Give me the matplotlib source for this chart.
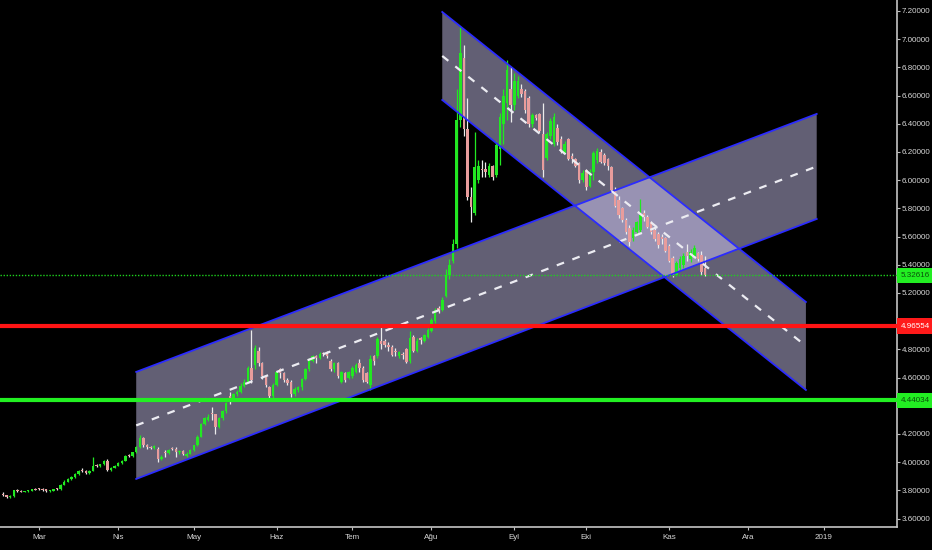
import numpy as np
import pandas as pd
import matplotlib
matplotlib.use("Agg")
import matplotlib.pyplot as plt

# USD/TRY daily candles, one per business day from 2018-02-15
start_day = "2018-02-15"

opens = [3.775, 3.765, 3.752, 3.760, 3.800, 3.794, 3.790, 3.795, 3.797, 3.810,
         3.810, 3.806, 3.808, 3.792, 3.797, 3.812, 3.806, 3.840, 3.862, 3.880,
         3.895, 3.915, 3.945, 3.938, 3.922, 3.940, 3.978, 3.972, 3.985, 4.010,
         3.945, 3.958, 3.975, 3.995, 4.010, 4.050, 4.045, 4.070, 4.110, 4.170,
         4.120, 4.108, 4.100, 4.095, 4.025, 4.072, 4.066, 4.100, 4.090, 4.070,
         4.078, 4.045, 4.060, 4.085, 4.120, 4.180, 4.270, 4.300, 4.350, 4.340,
         4.250, 4.310, 4.360, 4.470, 4.450, 4.480, 4.500, 4.540, 4.570, 4.667,
         4.690, 4.790, 4.700, 4.610, 4.530, 4.470, 4.550, 4.660, 4.630, 4.580,
         4.570, 4.480, 4.510, 4.530, 4.590, 4.660, 4.720, 4.750, 4.740, 4.770,
         4.770, 4.720, 4.660, 4.700, 4.570, 4.630, 4.600, 4.610, 4.640, 4.700,
         4.670, 4.630, 4.550, 4.750, 4.750, 4.860, 4.860, 4.830, 4.820, 4.790,
         4.750, 4.770, 4.800, 4.720, 4.890, 4.790, 4.880, 4.860, 4.890, 4.930,
         5.000, 5.090, 5.080, 5.180, 5.330, 5.430, 5.550, 6.430, 6.870, 6.360,
         5.880, 5.770, 6.000, 6.080, 6.080, 6.040, 6.100, 6.040, 6.220, 6.400,
         6.550, 6.650, 6.530, 6.600, 6.650, 6.630, 6.580, 6.400, 6.460, 6.470,
         6.330, 6.160, 6.310, 6.260, 6.370, 6.290, 6.200, 6.290, 6.170, 6.150,
         6.120, 6.000, 6.070, 5.960, 6.060, 6.140, 6.200, 6.180, 6.150, 6.090,
         5.930, 5.860, 5.800, 5.720, 5.660, 5.590, 5.630, 5.650, 5.770, 5.740,
         5.700, 5.650, 5.620, 5.600, 5.590, 5.530, 5.450, 5.330, 5.380, 5.400,
         5.490, 5.440, 5.460, 5.480, 5.470, 5.380]

highs = [3.785, 3.770, 3.765, 3.805, 3.808, 3.805, 3.798, 3.800, 3.812, 3.815,
         3.818, 3.815, 3.812, 3.800, 3.812, 3.818, 3.845, 3.870, 3.885, 3.900,
         3.925, 3.945, 3.955, 3.945, 3.945, 4.040, 3.985, 3.990, 4.015, 4.020,
         3.965, 3.980, 4.000, 4.015, 4.050, 4.060, 4.075, 4.115, 4.190, 4.180,
         4.130, 4.118, 4.125, 4.106, 4.050, 4.085, 4.090, 4.110, 4.105, 4.085,
         4.085, 4.070, 4.090, 4.125, 4.190, 4.280, 4.320, 4.340, 4.390, 4.345,
         4.320, 4.370, 4.430, 4.500, 4.490, 4.510, 4.560, 4.590, 4.680, 4.940,
         4.830, 4.820, 4.710, 4.620, 4.540, 4.560, 4.650, 4.670, 4.640, 4.600,
         4.580, 4.530, 4.540, 4.600, 4.670, 4.740, 4.760, 4.760, 4.780, 4.780,
         4.790, 4.730, 4.710, 4.710, 4.650, 4.640, 4.650, 4.680, 4.700, 4.730,
         4.680, 4.640, 4.760, 4.760, 4.890, 4.980, 4.870, 4.850, 4.830, 4.810,
         4.790, 4.780, 4.810, 4.930, 4.900, 4.880, 4.890, 4.910, 4.950, 5.020,
         5.090, 5.110, 5.170, 5.370, 5.440, 5.580, 6.650, 7.090, 6.960, 6.580,
         5.950, 6.340, 6.140, 6.140, 6.130, 6.120, 6.110, 6.280, 6.480, 6.650,
         6.850, 6.800, 6.760, 6.740, 6.680, 6.650, 6.600, 6.480, 6.470, 6.480,
         6.550, 6.340, 6.440, 6.480, 6.400, 6.310, 6.280, 6.300, 6.190, 6.160,
         6.130, 6.070, 6.080, 6.080, 6.210, 6.230, 6.220, 6.190, 6.160, 6.100,
         5.950, 5.890, 5.810, 5.730, 5.680, 5.670, 5.710, 5.870, 5.790, 5.750,
         5.710, 5.660, 5.630, 5.620, 5.600, 5.550, 5.460, 5.430, 5.460, 5.480,
         5.550, 5.510, 5.540, 5.490, 5.500, 5.460]

lows = [3.760, 3.745, 3.745, 3.755, 3.788, 3.785, 3.786, 3.790, 3.795, 3.800,
        3.800, 3.798, 3.785, 3.788, 3.795, 3.800, 3.804, 3.835, 3.858, 3.875,
        3.890, 3.910, 3.930, 3.915, 3.918, 3.935, 3.965, 3.968, 3.980, 3.940,
        3.940, 3.955, 3.970, 3.990, 4.005, 4.035, 4.040, 4.065, 4.100, 4.110,
        4.095, 4.090, 4.095, 4.000, 4.015, 4.040, 4.060, 4.085, 4.040, 4.060,
        4.050, 4.040, 4.055, 4.080, 4.115, 4.175, 4.260, 4.290, 4.300, 4.200,
        4.240, 4.300, 4.350, 4.410, 4.440, 4.470, 4.490, 4.530, 4.560, 4.560,
        4.660, 4.680, 4.590, 4.530, 4.450, 4.450, 4.540, 4.600, 4.570, 4.550,
        4.460, 4.470, 4.500, 4.510, 4.580, 4.650, 4.710, 4.700, 4.730, 4.750,
        4.740, 4.650, 4.640, 4.600, 4.560, 4.570, 4.590, 4.600, 4.630, 4.640,
        4.570, 4.560, 4.510, 4.690, 4.740, 4.800, 4.820, 4.790, 4.750, 4.750,
        4.740, 4.730, 4.700, 4.700, 4.780, 4.780, 4.840, 4.850, 4.880, 4.920,
        4.990, 5.060, 5.070, 5.170, 5.300, 5.410, 5.520, 6.380, 6.310, 5.860,
        5.700, 5.750, 5.980, 6.020, 6.020, 6.020, 6.000, 6.020, 6.110, 6.260,
        6.430, 6.410, 6.500, 6.580, 6.590, 6.480, 6.380, 6.380, 6.430, 6.340,
        6.020, 6.140, 6.290, 6.240, 6.250, 6.190, 6.190, 6.140, 6.120, 6.090,
        5.980, 5.990, 5.930, 5.950, 6.000, 6.120, 6.120, 6.110, 6.070, 5.920,
        5.810, 5.730, 5.700, 5.620, 5.530, 5.570, 5.620, 5.630, 5.710, 5.660,
        5.620, 5.570, 5.520, 5.550, 5.490, 5.420, 5.310, 5.320, 5.360, 5.380,
        5.430, 5.420, 5.450, 5.430, 5.330, 5.320]

closes = [3.765, 3.752, 3.760, 3.800, 3.794, 3.790, 3.795, 3.797, 3.810, 3.805,
          3.806, 3.803, 3.792, 3.797, 3.808, 3.806, 3.840, 3.862, 3.880, 3.895,
          3.915, 3.935, 3.938, 3.922, 3.940, 3.975, 3.972, 3.985, 4.005, 3.945,
          3.958, 3.975, 3.995, 4.010, 4.045, 4.045, 4.070, 4.110, 4.170, 4.120,
          4.105, 4.100, 4.115, 4.025, 4.040, 4.066, 4.085, 4.090, 4.070, 4.078,
          4.058, 4.060, 4.085, 4.120, 4.180, 4.270, 4.310, 4.320, 4.340, 4.250,
          4.310, 4.360, 4.420, 4.450, 4.480, 4.500, 4.540, 4.570, 4.667, 4.580,
          4.810, 4.700, 4.610, 4.550, 4.470, 4.550, 4.640, 4.630, 4.580, 4.560,
          4.480, 4.520, 4.530, 4.590, 4.660, 4.730, 4.750, 4.740, 4.770, 4.765,
          4.750, 4.660, 4.700, 4.610, 4.640, 4.580, 4.640, 4.670, 4.690, 4.670,
          4.580, 4.570, 4.730, 4.720, 4.870, 4.840, 4.830, 4.820, 4.760, 4.780,
          4.780, 4.760, 4.710, 4.880, 4.790, 4.860, 4.865, 4.900, 4.940, 5.010,
          5.080, 5.075, 5.150, 5.330, 5.400, 5.550, 6.430, 6.900, 6.360, 5.880,
          5.810, 6.090, 6.100, 6.070, 6.060, 6.100, 6.020, 6.250, 6.450, 6.600,
          6.780, 6.530, 6.700, 6.700, 6.610, 6.500, 6.400, 6.460, 6.440, 6.350,
          6.070, 6.330, 6.420, 6.450, 6.270, 6.200, 6.260, 6.150, 6.150, 6.100,
          6.000, 6.050, 5.950, 6.060, 6.190, 6.210, 6.130, 6.120, 6.100, 5.930,
          5.820, 5.750, 5.720, 5.630, 5.560, 5.650, 5.700, 5.750, 5.740, 5.670,
          5.630, 5.580, 5.540, 5.580, 5.500, 5.430, 5.330, 5.410, 5.440, 5.460,
          5.460, 5.490, 5.520, 5.440, 5.350, 5.326]

# drawn channels (anchor dates and prices)
up_channel_dates = ["2018-04-09", "2018-12-28"]
up_channel_top = [4.640, 6.470]
up_channel_bottom = [3.881, 5.725]
down_channel_dates = ["2018-08-06", "2018-12-25"]
down_channel_top = [7.193, 5.136]
down_channel_bottom = [6.569, 4.512]

# horizontal levels
red_level = 4.96554
green_level = 4.44034
last_price = 5.32616

month_starts = ["2018-03-01", "2018-04-02", "2018-05-01", "2018-06-01", "2018-07-02",
                "2018-08-01", "2018-09-03", "2018-10-01", "2018-11-01", "2018-12-03",
                "2019-01-01"]
month_labels = ["Mar", "Nis", "May", "Haz", "Tem", "Ağu", "Eyl", "Eki", "Kas", "Ara", "2019"]
y_ticks = [3.6, 3.8, 4.0, 4.2, 4.4, 4.6, 4.8, 5.0, 5.2, 5.4, 5.6, 5.8,
           6.0, 6.2, 6.4, 6.6, 6.8, 7.0, 7.2]

plt.rcParams["font.family"] = ["Liberation Sans Narrow", "Liberation Sans", "DejaVu Sans"]

days = pd.bdate_range(start_day, periods=300)


def bar_of(day):
    return days.get_loc(pd.Timestamp(day))


o = np.array(opens)
h = np.array(highs)
l = np.array(lows)
c = np.array(closes)
x = np.arange(len(c))
up = c >= o

fig = plt.figure(figsize=(9.32, 5.5), dpi=100, facecolor="black")
ax = fig.add_axes([0, 23 / 550, 897 / 932, 527 / 550], facecolor="black")

# channels
for dates_, top, bot in [(up_channel_dates, up_channel_top, up_channel_bottom),
                         (down_channel_dates, down_channel_top, down_channel_bottom)]:
    xs = [bar_of(d) for d in dates_]
    ax.fill([xs[0], xs[1], xs[1], xs[0]], [top[0], top[1], bot[1], bot[0]],
            color="#d8d0ff", alpha=0.46, linewidth=0, zorder=2)
    ax.plot(xs, top, color="#2b2bff", linewidth=1.3, zorder=5)
    ax.plot(xs, bot, color="#2b2bff", linewidth=1.3, zorder=5)
    mid = [(top[0] + bot[0]) / 2, (top[1] + bot[1]) / 2]
    ax.plot(xs, mid, color="#ececf2", linewidth=1.6, dashes=(3.5, 4), zorder=5)

# candles
green = "#22e822"
pink = "#e89c9c"
wick_col = np.where(up, green, "#ececec")
body_col = np.where(up, green, pink)
ax.vlines(x, l, h, colors=wick_col, linewidth=0.9, zorder=4)
body = np.maximum(np.abs(c - o), 0.008)
ax.bar(x, body, bottom=np.minimum(o, c), width=0.7, color=body_col,
       linewidth=0, zorder=4)

# levels
ax.axhline(red_level, color="#ff1414", linewidth=3.0, zorder=6)
ax.axhline(green_level, color="#22f022", linewidth=3.0, zorder=6)
ax.axhline(last_price, color="#1ed21e", linewidth=1.0, linestyle=(0, (1, 1.2)), zorder=6)

ax.set_xlim(-0.83, 248.3)
ax.set_ylim(3.540, 7.278)

ax.yaxis.tick_right()
ax.set_yticks(y_ticks)
# the 5.00000 label sits under the red price tag
ax.set_yticklabels(["" if v == 5.0 else "%.5f" % v for v in y_ticks])
ax.set_xticks([bar_of(d) for d in month_starts])
ax.set_xticklabels(month_labels)
ax.tick_params(colors="#bfbfbf", labelcolor="#d8d8d8", labelsize=5.8,
               length=2, width=0.8, pad=1.2)
ax.tick_params(axis="x", pad=3)

for side in ["top", "left"]:
    ax.spines[side].set_visible(False)
for side in ["right", "bottom"]:
    ax.spines[side].set_color("#c4c4c4")
    ax.spines[side].set_linewidth(1.2)

# price tags on the right axis
tags = [(last_price, "#22ee22", "#0b4f0b"),
        (red_level, "#ff1a1a", "white"),
        (green_level, "#22ee22", "#0b4f0b")]
for value, bg, fg in tags:
    ax.text(1.0045, value, "%.5f" % value, transform=ax.get_yaxis_transform(),
            ha="left", va="center", fontsize=5.8, color=fg, zorder=10, clip_on=False,
            bbox=dict(boxstyle="square,pad=0.5", fc=bg, ec="none"))

fig.savefig("out.png", dpi=100, facecolor="black")
